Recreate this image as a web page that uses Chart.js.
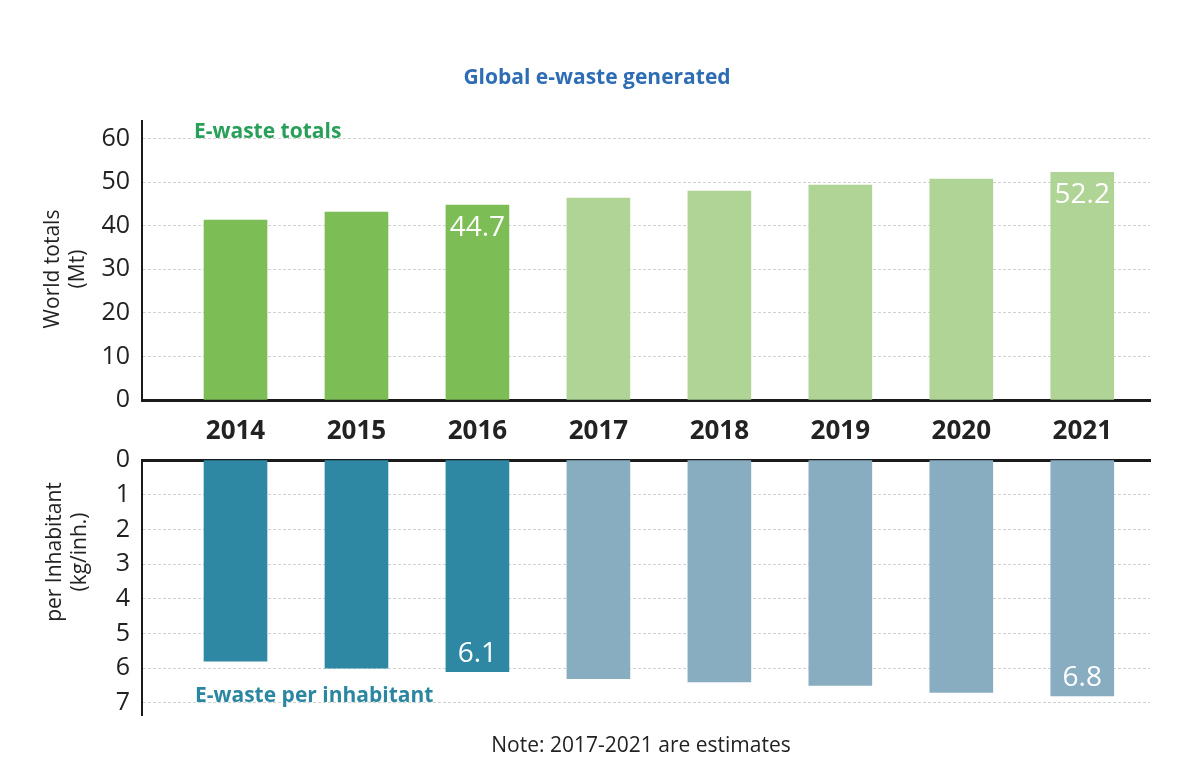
<!DOCTYPE html>
<html>
<head>
<meta charset="utf-8">
<script src="https://cdn.jsdelivr.net/npm/chart.js@4.4.1/dist/chart.umd.min.js"></script>
<style>
  body { margin: 0; background: #fff; width: 1200px; height: 783px; overflow: hidden; position: relative; }
  canvas { position: absolute; left: 0; }
</style>
</head>
<body>
<canvas id="totalsChart" width="1200" height="450" style="top:0"></canvas>
<canvas id="perInhChart" width="1200" height="363" style="top:420px"></canvas>
<script>
// data
const years = ['2014', '2015', '2016', '2017', '2018', '2019', '2020', '2021'];
const totals = [41.3, 43.1, 44.7, 46.3, 47.9, 49.3, 50.7, 52.2];          // Mt
const perInhabitant = [5.8, 6.0, 6.1, 6.3, 6.4, 6.5, 6.7, 6.8];          // kg/inh.
const totalsTicks = [0, 10, 20, 30, 40, 50, 60];
const perInhTicks = [0, 1, 2, 3, 4, 5, 6, 7];
const labelledYears = ['2016', '2021'];
const firstEstimate = 2017;

const FONT = "'Open Sans', 'Noto Sans', sans-serif";

function barColours(dark, light) {
    return years.map(y => (+y >= firstEstimate ? light : dark));
}
function pts(values) {
    return values.map((v, i) => ({ x: i, y: v }));
}

// shared x scale (linear so the bars sit where they do in the picture)
function xScale(top) {
    return {
        type: 'linear',
        min: -0.773,
        max: 7.56,
        offset: false,
        bounds: 'data',
        position: top ? 'top' : 'bottom',
        afterBuildTicks: s => { s.ticks = years.map((y, i) => ({ value: i })); },
        afterFit: s => { s.height = top ? 0 : 50; },
        grid: { display: false, drawTicks: false, offset: false },
        border: { color: '#1a1a1a', width: 3 },
        ticks: {
            display: !top,
            padding: 16,
            color: '#222',
            font: { family: FONT, size: 26, weight: 'bold' },
            callback: v => years[v]
        }
    };
}

function drawText(ctx, text, x, y, font, colour, align) {
    ctx.save();
    ctx.font = font;
    ctx.fillStyle = colour;
    ctx.textAlign = align || 'left';
    ctx.textBaseline = 'middle';
    ctx.fillText(text, x, y);
    ctx.restore();
}
function drawVertical(ctx, text, x, y, font, colour) {
    ctx.save();
    ctx.translate(x, y);
    ctx.rotate(-Math.PI / 2);
    drawText(ctx, text, 0, 0, font, colour, 'center');
    ctx.restore();
}

const topText = {
    id: 'topText',
    afterDraw(chart) {
        const ctx = chart.ctx;
        drawText(ctx, 'Global e-waste generated', 597, 78, 'bold 21px ' + FONT, '#2e6db4', 'center');
        drawText(ctx, 'E-waste totals', 194, 132, 'bold 21px ' + FONT, '#28a05a');
        drawVertical(ctx, 'World totals', 53, 269, '21px ' + FONT, '#222');
        drawVertical(ctx, '(Mt)', 78, 269, '21px ' + FONT, '#222');
        const meta = chart.getDatasetMeta(0);
        years.forEach((y, i) => {
            if (!labelledYears.includes(y)) return;
            const bar = meta.data[i];
            drawText(ctx, totals[i].toFixed(1), bar.x, bar.y + 23, '28px ' + FONT, '#fff', 'center');
        });
    }
};

const bottomText = {
    id: 'bottomText',
    afterDraw(chart) {
        const ctx = chart.ctx;
        drawText(ctx, 'E-waste per inhabitant', 195, 276, 'bold 21px ' + FONT, '#2b86a1');
        drawVertical(ctx, 'per Inhabitant', 55, 132, '21px ' + FONT, '#222');
        drawVertical(ctx, '(kg/inh.)', 80, 132, '21px ' + FONT, '#222');
        drawText(ctx, 'Note: 2017-2021 are estimates', 641, 326, '21px ' + FONT, '#222', 'center');
        const meta = chart.getDatasetMeta(0);
        years.forEach((y, i) => {
            if (!labelledYears.includes(y)) return;
            const bar = meta.data[i];
            drawText(ctx, perInhabitant[i].toFixed(1), bar.x, bar.y - 18, '28px ' + FONT, '#fff', 'center');
        });
    }
};

new Chart(document.getElementById('totalsChart'), {
    type: 'bar',
    data: {
        datasets: [{
            label: 'World totals (Mt)',
            data: pts(totals),
            backgroundColor: barColours('#7dbd56', '#b0d495'),
            barThickness: 63
        }]
    },
    options: {
        responsive: false,
        animation: false,
        layout: { padding: { top: 121, right: 50, left: 0, bottom: 0 } },
        plugins: { legend: { display: false }, tooltip: { enabled: false } },
        scales: {
            x: xScale(false),
            y: {
                min: 0,
                max: 64,
                afterBuildTicks: s => { s.ticks = totalsTicks.map(v => ({ value: v })); },
                afterFit: s => { s.width = 142; },
                grid: { color: '#d2d2d2', lineWidth: 1, drawTicks: false },
                border: { color: '#1a1a1a', width: 2, dash: [3, 2] },
                ticks: { padding: 12, color: '#222', font: { family: FONT, size: 25 } }
            }
        }
    },
    plugins: [topText]
});

new Chart(document.getElementById('perInhChart'), {
    type: 'bar',
    data: {
        datasets: [{
            label: 'per Inhabitant (kg/inh.)',
            data: pts(perInhabitant),
            backgroundColor: barColours('#2e88a3', '#88adc1'),
            barThickness: 63
        }]
    },
    options: {
        responsive: false,
        animation: false,
        layout: { padding: { top: 40, right: 50, left: 0, bottom: 68 } },
        plugins: { legend: { display: false }, tooltip: { enabled: false } },
        scales: {
            x: xScale(true),
            y: {
                reverse: true,
                min: 0,
                max: 7.35,
                afterBuildTicks: s => { s.ticks = perInhTicks.map(v => ({ value: v })); },
                afterFit: s => { s.width = 142; },
                grid: { color: '#d2d2d2', lineWidth: 1, drawTicks: false },
                border: { color: '#1a1a1a', width: 2, dash: [3, 2] },
                ticks: { padding: 12, color: '#222', font: { family: FONT, size: 25 } }
            }
        }
    },
    plugins: [bottomText]
});
</script>
</body>
</html>
